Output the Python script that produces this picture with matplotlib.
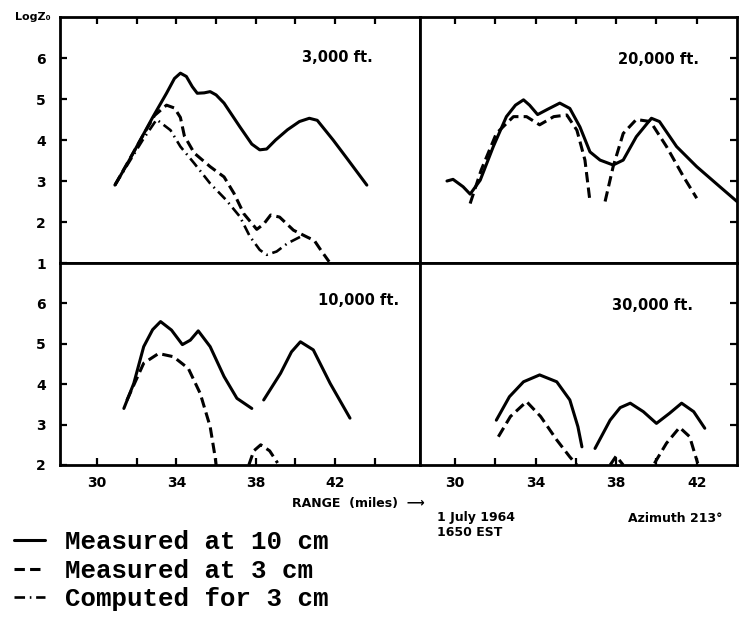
import numpy as np
import matplotlib
matplotlib.use("Agg")
import matplotlib.pyplot as plt
from matplotlib.font_manager import FontProperties

plt.rcParams['font.family'] = ['DejaVu Sans']
plt.rcParams['font.weight'] = 'bold'

nan = np.nan

# ---- 3,000 ft. ----
x_3k_10 = [30.9, 31.5, 32.0, 32.8, 33.5, 33.9, 34.2, 34.5, 34.8, 35.05, 35.4, 35.7, 36.0, 36.4,
           37.2, 37.8, 38.2, 38.55, 39.0, 39.6, 40.2, 40.7, 41.1, 41.9, 42.6, 43.6]
y_3k_10 = [2.9, 3.4, 3.84, 4.55, 5.14, 5.5, 5.63, 5.55, 5.3, 5.14, 5.15, 5.18, 5.1, 4.9,
           4.32, 3.9, 3.76, 3.78, 4.0, 4.25, 4.45, 4.53, 4.48, 4.0, 3.55, 2.9]
x_3k_3 = [30.9, 31.6, 32.3, 32.9, 33.5, 33.9, 34.2, 34.4, 34.9, 35.7, 36.4, 36.9, 37.4, 38.05,
          38.4, 38.75, 39.2, 39.9, 40.6, 40.95, 41.3, 41.7]
y_3k_3 = [2.9, 3.5, 4.1, 4.6, 4.85, 4.78, 4.55, 4.1, 3.68, 3.35, 3.1, 2.7, 2.2, 1.82,
          1.95, 2.17, 2.12, 1.8, 1.63, 1.55, 1.3, 1.03]
x_3k_calc = [30.9, 31.6, 32.3, 33.0, 33.7, 34.2, 34.9, 35.7, 36.5, 37.2, 37.7, 38.2, 38.55,
             39.05, 39.6, 40.25]
y_3k_calc = [2.9, 3.45, 4.0, 4.5, 4.24, 3.84, 3.43, 2.94, 2.54, 2.13, 1.65, 1.32, 1.2,
             1.28, 1.48, 1.64]

# ---- 20,000 ft. ----
x_20k_10 = [29.6, 29.9, 30.4, 30.75, 31.25, 31.9, 32.55, 33.0, 33.4, 33.7, 34.1, 34.6, 35.2,
            35.7, 36.2, 36.7, 37.2, 37.85, 38.35, 39.0, 39.75, 40.15, 41.0, 42.0, 43.15, 44.0]
y_20k_10 = [3.0, 3.04, 2.86, 2.68, 3.02, 3.84, 4.57, 4.85, 4.98, 4.85, 4.62, 4.75, 4.9,
            4.77, 4.32, 3.71, 3.51, 3.39, 3.51, 4.08, 4.53, 4.45, 3.84, 3.35, 2.86, 2.5]
x_20k_3 = [30.75, 31.3, 32.05, 32.9, 33.55, 34.2, 34.9, 35.55, 36.05, 36.45, 36.7, nan,
           37.45, 37.85, 38.35, 39.0, 39.7, 40.5, 41.35, 42.0]
y_20k_3 = [2.45, 3.27, 4.16, 4.57, 4.57, 4.37, 4.57, 4.61, 4.24, 3.51, 2.5, nan,
           2.5, 3.35, 4.16, 4.5, 4.45, 3.84, 3.1, 2.58]

# ---- 10,000 ft. ----
x_10k_10 = [31.35, 31.85, 32.35, 32.8, 33.2, 33.75, 34.3, 34.7, 35.1, 35.7, 36.4, 37.05, 37.8, nan,
            38.4, 39.25, 39.8, 40.25, 40.9, 41.75, 42.75]
y_10k_10 = [3.4, 4.02, 4.93, 5.35, 5.55, 5.34, 4.98, 5.09, 5.32, 4.93, 4.19, 3.65, 3.4, nan,
            3.61, 4.27, 4.8, 5.05, 4.85, 4.02, 3.16]
x_10k_3 = [31.5, 32.35, 33.1, 33.85, 34.6, 35.2, 35.7, 35.95, 36.0, nan,
           37.65, 37.9, 38.25, 38.7, 39.1]
y_10k_3 = [3.6, 4.52, 4.76, 4.68, 4.39, 3.77, 2.95, 2.2, 2.0, nan,
           2.0, 2.35, 2.5, 2.35, 2.05]

# ---- 30,000 ft. ----
x_30k_10 = [32.05, 32.7, 33.4, 34.2, 35.05, 35.7, 36.1, 36.3, nan,
            36.95, 37.7, 38.2, 38.7, 39.35, 40.0, 40.65, 41.25, 41.85, 42.4]
y_30k_10 = [3.11, 3.69, 4.06, 4.23, 4.06, 3.61, 2.95, 2.45, nan,
            2.41, 3.11, 3.42, 3.53, 3.32, 3.03, 3.28, 3.53, 3.32, 2.91]
x_30k_3 = [32.15, 32.75, 33.55, 34.25, 35.05, 35.7, 36.05, nan,
           37.7, 38.0, 38.35, nan,
           39.9, 40.5, 41.15, 41.65, 42.05]
y_30k_3 = [2.7, 3.2, 3.57, 3.2, 2.62, 2.2, 2.0, nan,
           2.0, 2.22, 2.0, nan,
           2.04, 2.54, 2.93, 2.7, 2.04]

panel_titles = ["3,000 ft.", "20,000 ft.", "10,000 ft.", "30,000 ft."]
x_tick_labels = [30, 34, 38, 42]
legend_labels = ["Measured at 10 cm", "Measured at 3 cm", "Computed for 3 cm"]

W, H = 753, 624
fig = plt.figure(figsize=(W / 100, H / 100), dpi=100)


def rect(x0, y0, x1, y1):
    return [x0 / W, 1 - y1 / H, (x1 - x0) / W, (y1 - y0) / H]


LW = 2.2
solid = dict(color='black', lw=LW, ls='-', solid_capstyle='round')
dashed = dict(color='black', lw=LW, ls=(0, (3.4, 1.7)))
dashdot = dict(color='black', lw=1.9, ls=(0, (4.0, 1.8, 0.6, 1.8)))


def panel(r, xlim, ylim):
    ax = fig.add_axes(r)
    ax.set_xlim(*xlim)
    ax.set_ylim(*ylim)
    for s in ax.spines.values():
        s.set_linewidth(2.0)
    ax.tick_params(which='both', direction='in', length=5, width=1.6,
                   labelsize=10, bottom=False, top=False, left=False, right=False,
                   labelbottom=False, labelleft=False)
    return ax


xl_left = (28.13, 46.28)
xl_right = (28.26, 44.0)

ax_tl = panel(rect(60, 17, 420, 263), xl_left, (1, 7))
ax_tr = panel(rect(420, 17, 737, 263), xl_right, (1, 7))
ax_bl = panel(rect(60, 263, 420, 465), xl_left, (2, 7))
ax_br = panel(rect(420, 263, 737, 465), xl_right, (2, 7))

# top-left
ax_tl.set_xticks(np.arange(30, 45, 2))
ax_tl.set_yticks([1, 2, 3, 4, 5, 6])
ax_tl.tick_params(top=True, left=True, labelleft=True, pad=10)
h10, = ax_tl.plot(x_3k_10, y_3k_10, **solid)
h3, = ax_tl.plot(x_3k_3, y_3k_3, **dashed)
hc, = ax_tl.plot(x_3k_calc, y_3k_calc, **dashdot)

# top-right
ax_tr.set_xticks(np.arange(30, 43, 2))
ax_tr.set_yticks([2, 3, 4, 5, 6])
ax_tr.tick_params(top=True, right=True)
ax_tr.plot(x_20k_10, y_20k_10, **solid)
ax_tr.plot(x_20k_3, y_20k_3, **dashed)

# bottom-left
ax_bl.set_xticks(np.arange(30, 45, 2))
ax_bl.set_xticklabels([str(v) if v in x_tick_labels else "" for v in range(30, 45, 2)])
ax_bl.set_yticks([2, 3, 4, 5, 6])
ax_bl.tick_params(bottom=True, left=True, labelbottom=True, labelleft=True)
ax_bl.tick_params(axis='y', pad=10)
ax_bl.tick_params(axis='x', pad=8)
ax_bl.plot(x_10k_10, y_10k_10, **solid)
ax_bl.plot(x_10k_3, y_10k_3, **dashed)

# bottom-right
ax_br.set_xticks(np.arange(30, 43, 2))
ax_br.set_xticklabels([str(v) if v in x_tick_labels else "" for v in range(30, 43, 2)])
ax_br.set_yticks([3, 4, 5, 6])
ax_br.tick_params(bottom=True, right=True, labelbottom=True)
ax_br.tick_params(axis='x', pad=8)
ax_br.plot(x_30k_10, y_30k_10, **solid)
ax_br.plot(x_30k_3, y_30k_3, **dashed)

for ax in (ax_tl, ax_tr, ax_bl, ax_br):
    for lab in ax.get_xticklabels() + ax.get_yticklabels():
        lab.set_fontweight('heavy')

# panel captions
title_pos = [(ax_tl, 337, 57), (ax_tr, 658, 60), (ax_bl, 359, 300), (ax_br, 652, 305)]
for (ax, px, py), t in zip(title_pos, panel_titles):
    fig.text(px / W, 1 - py / H, t, ha='center', va='center', fontsize=10.5,
             fontweight='heavy')

fig.text(33 / W, 1 - 17 / H, "LogZ₀", ha='center', va='center', fontsize=8,
         fontweight='heavy')

fig.text(292 / W, 1 - 504 / H, "RANGE  (miles)  ⟶", ha='left', va='center',
         fontsize=9, fontweight='heavy')
fig.text(437 / W, 1 - 518 / H, "1 July 1964", ha='left', va='center',
         fontsize=9, fontweight='heavy')
fig.text(722 / W, 1 - 518 / H, "Azimuth 213°", ha='right', va='center',
         fontsize=9, fontweight='heavy')
fig.text(437 / W, 1 - 533 / H, "1650 EST", ha='left', va='center',
         fontsize=9, fontweight='heavy')

fig.legend([h10, h3, hc], legend_labels, loc='upper left',
           bbox_to_anchor=(14 / W, 1 - 530 / H), frameon=False,
           prop=FontProperties(family='Liberation Mono', size=18.5),
           handlelength=1.2, handletextpad=0.8, labelspacing=0.18,
           borderpad=0, borderaxespad=0)

fig.savefig("out.png", dpi=100)
